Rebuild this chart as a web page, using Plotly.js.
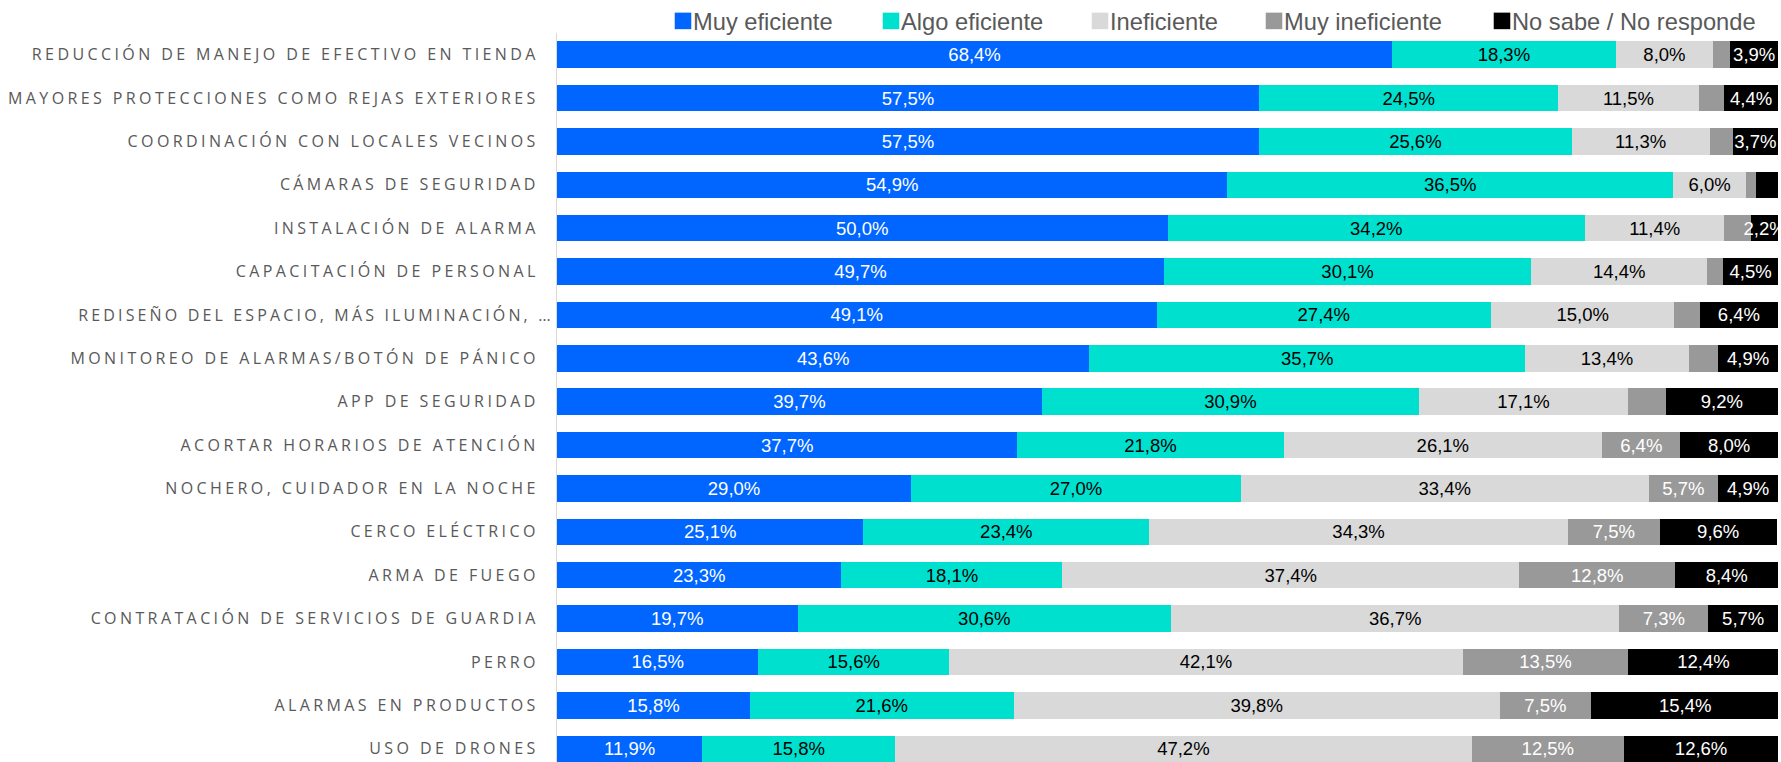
<!DOCTYPE html>
<html>
<head>
<meta charset="utf-8">
<script src="https://cdn.plot.ly/plotly-3.0.1.min.js"></script>
<style>
  html, body { margin: 0; padding: 0; background: #fff; }
  #chart { width: 1781px; height: 762px; }
  .ytick text { letter-spacing: 3.4px; }
  .ytick text[data-unformatted^="REDISE"] { letter-spacing: 3.15px; translate: 15px 0px; }
  .legendpoints path { transform: translate(30px, 0px) scale(1.38) !important; }
</style>
</head>
<body>
<div id="chart"></div>
<script>
const categories = [
  "REDUCCIÓN DE MANEJO DE EFECTIVO EN TIENDA",
  "MAYORES PROTECCIONES COMO REJAS EXTERIORES",
  "COORDINACIÓN CON LOCALES VECINOS",
  "CÁMARAS DE SEGURIDAD",
  "INSTALACIÓN DE ALARMA",
  "CAPACITACIÓN DE PERSONAL",
  "REDISEÑO DEL ESPACIO, MÁS ILUMINACIÓN, …",
  "MONITOREO DE ALARMAS/BOTÓN DE PÁNICO",
  "APP DE SEGURIDAD",
  "ACORTAR HORARIOS DE ATENCIÓN",
  "NOCHERO, CUIDADOR EN LA NOCHE",
  "CERCO ELÉCTRICO",
  "ARMA DE FUEGO",
  "CONTRATACIÓN DE SERVICIOS DE GUARDIA",
  "PERRO",
  "ALARMAS EN PRODUCTOS",
  "USO DE DRONES"
];

const seriesNames = ["Muy eficiente", "Algo eficiente", "Ineficiente", "Muy ineficiente", "No sabe / No responde"];

const muyEficiente   = [68.4, 57.5, 57.5, 54.9, 50.0, 49.7, 49.1, 43.6, 39.7, 37.7, 29.0, 25.1, 23.3, 19.7, 16.5, 15.8, 11.9];
const algoEficiente  = [18.3, 24.5, 25.6, 36.5, 34.2, 30.1, 27.4, 35.7, 30.9, 21.8, 27.0, 23.4, 18.1, 30.6, 15.6, 21.6, 15.8];
const ineficiente    = [ 8.0, 11.5, 11.3,  6.0, 11.4, 14.4, 15.0, 13.4, 17.1, 26.1, 33.4, 34.3, 37.4, 36.7, 42.1, 39.8, 47.2];
const muyIneficiente = [ 1.4,  2.1,  1.9,  0.8,  2.2,  1.3,  2.1,  2.4,  3.1,  6.4,  5.7,  7.5, 12.8,  7.3, 13.5,  7.5, 12.5];
const noSabe         = [ 3.9,  4.4,  3.7,  1.8,  2.2,  4.5,  6.4,  4.9,  9.2,  8.0,  4.9,  9.6,  8.4,  5.7, 12.4, 15.4, 12.6];

const seriesValues = [muyEficiente, algoEficiente, ineficiente, muyIneficiente, noSabe];
const seriesColors = ["#0066FF", "#00E0CF", "#D9D9D9", "#999999", "#000000"];
const labelColors  = ["#FFFFFF", "#000000", "#000000", "#FFFFFF", "#FFFFFF"];
// smallest value that carries a data label in each series (as in the reference)
const minLabelled  = [0, 0, 0, 5, 2];
// left edge (px) of each legend entry, one legend per series
const legendLeft   = [653, 861, 1070, 1244, 1472];
const legendIds    = ["legend", "legend2", "legend3", "legend4", "legend5"];

function fmt(v) { return v.toFixed(1).replace(".", ",") + "%"; }

const traces = seriesValues.map((vals, i) => ({
  type: "bar",
  orientation: "h",
  name: seriesNames[i],
  legend: legendIds[i],
  y: categories,
  x: vals,
  text: vals.map(v => v >= minLabelled[i] ? fmt(v) : ""),
  textposition: "inside",
  insidetextanchor: "middle",
  textangle: 0,
  constraintext: "none",
  insidetextfont: { family: "Liberation Sans, Arial, sans-serif", size: 18.5, color: labelColors[i] },
  marker: { color: seriesColors[i], line: { width: 0 } },
  hoverinfo: "skip"
}));

const W = 1781, H = 762;

const layout = {
  width: W,
  height: H,
  barmode: "stack",
  bargap: 0.39,
  margin: { l: 557, r: 3, t: 33, b: 0, pad: 0, autoexpand: false },
  paper_bgcolor: "#FFFFFF",
  plot_bgcolor: "#FFFFFF",
  showlegend: true,
  xaxis: {
    range: [0, 100],
    visible: false,
    fixedrange: true
  },
  yaxis: {
    type: "category",
    range: [16.306, -0.5],
    showline: true,
    linecolor: "#D9D9D9",
    linewidth: 1,
    showgrid: false,
    zeroline: false,
    ticks: "",
    ticklabelstandoff: 14,
    tickfont: { family: "Open Sans, sans-serif", size: 16, color: "#595959" },
    fixedrange: true
  }
};

legendIds.forEach((id, i) => {
  layout[id] = {
    orientation: "h",
    xref: "container",
    yref: "container",
    x: legendLeft[i] / W,
    xanchor: "left",
    y: 1 - 21 / H,
    yanchor: "middle",
    font: { family: "Liberation Sans, Arial, sans-serif", size: 23.7, color: "#595959" },
    itemclick: false,
    bgcolor: "rgba(0,0,0,0)",
    borderwidth: 0
  };
});

Plotly.newPlot("chart", traces, layout, { displayModeBar: false, staticPlot: true });
</script>
</body>
</html>
